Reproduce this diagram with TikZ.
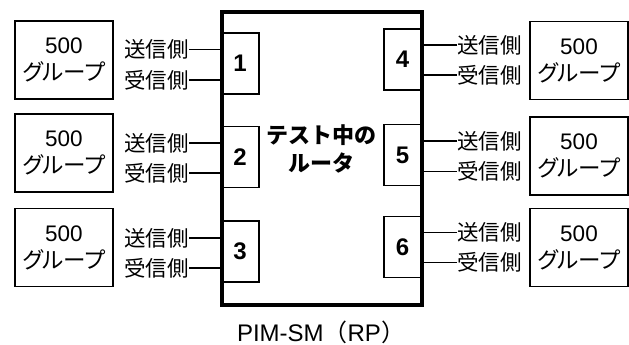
\documentclass[tikz,border=0pt]{standalone}
\usepackage{fontspec}
\setmainfont{Liberation Sans}
\newfontfamily\jp{Noto Sans CJK JP}
\newfontfamily\jpp[RawFeature=+palt]{Noto Sans CJK JP}
\begin{document}
\begin{tikzpicture}[x=1pt,y=-1pt,
  grp/.style={draw, line width=1.4pt, minimum width=98pt, minimum height=78pt, align=center, inner sep=0pt, font=\fontsize{22.5}{27}\selectfont},
  port/.style={draw, line width=1.4pt, fill=white, minimum width=37pt, minimum height=61pt, inner sep=0pt, font=\fontsize{24}{24}\selectfont\bfseries},
  lbl/.style={inner sep=0pt, font=\jp\fontsize{21.5}{21.5}\selectfont},
  wire/.style={line width=1.3pt},
  router/.style={draw, line width=4pt, minimum width=200pt, minimum height=292.7pt, inner sep=0pt}]
\useasboundingbox (0,0) rectangle (629,345);
% groups
\node[grp] (g1) at (64,60) {500\\{\jpp\fontsize{22.5}{27}\selectfont グループ}};
\node[grp] (g2) at (64,153) {500\\{\jpp\fontsize{22.5}{27}\selectfont グループ}};
\node[grp] (g3) at (64,247.5) {500\\{\jpp\fontsize{22.5}{27}\selectfont グループ}};
\node[grp] (g4) at (579,60.5) {500\\{\jpp\fontsize{22.5}{27}\selectfont グループ}};
\node[grp] (g5) at (579,156) {500\\{\jpp\fontsize{22.5}{27}\selectfont グループ}};
\node[grp] (g6) at (579,247.5) {500\\{\jpp\fontsize{22.5}{27}\selectfont グループ}};
% ports
\node[port, minimum width=38pt] (p1) at (240,63.5) {1};
\node[port, minimum width=38pt] (p2) at (240,157) {2};
\node[port, minimum width=38pt] (p3) at (240,251.5) {3};
\node[port] (p4) at (402.5,59.5) {4};
\node[port] (p5) at (402.5,155) {5};
\node[port] (p6) at (402.5,247) {6};
% router
\node[router] (r) at (321.7,158.4) {};
\node[align=center, inner sep=0pt, font=\jp\bfseries\fontsize{22}{28}\selectfont] (rt) at (321,149) {テスト中の\\ルータ};
\node[inner sep=0pt, anchor=base, font=\fontsize{24}{24}\selectfont] (cap) at (321,341) {PIM-SM{\jp （}RP{\jp ）}};
% labels left
\node[lbl, anchor=east] (s1) at (189,49.5) {送信側};
\node[lbl, anchor=east] (d1) at (189,80) {受信側};
\node[lbl, anchor=east] (s2) at (189,143) {送信側};
\node[lbl, anchor=east] (d2) at (189,173) {受信側};
\node[lbl, anchor=east] (s3) at (189,238) {送信側};
\node[lbl, anchor=east] (d3) at (189,268) {受信側};
% labels right
\node[lbl, anchor=west] (s4) at (457,45) {送信側};
\node[lbl, anchor=west] (d4) at (457,75) {受信側};
\node[lbl, anchor=west] (s5) at (457,141) {送信側};
\node[lbl, anchor=west] (d5) at (457,171.5) {受信側};
\node[lbl, anchor=west] (s6) at (457,232.5) {送信側};
\node[lbl, anchor=west] (d6) at (457,262.5) {受信側};
% wires
\foreach \n in {s1,d1,s2,d2,s3,d3}
  \draw[wire] (\n.east) -- (\n.east -| r.west);
\foreach \n in {s4,d4,s5,d5,s6,d6}
  \draw[wire] (\n.west) -- (\n.west -| r.east);
\end{tikzpicture}
\end{document}
